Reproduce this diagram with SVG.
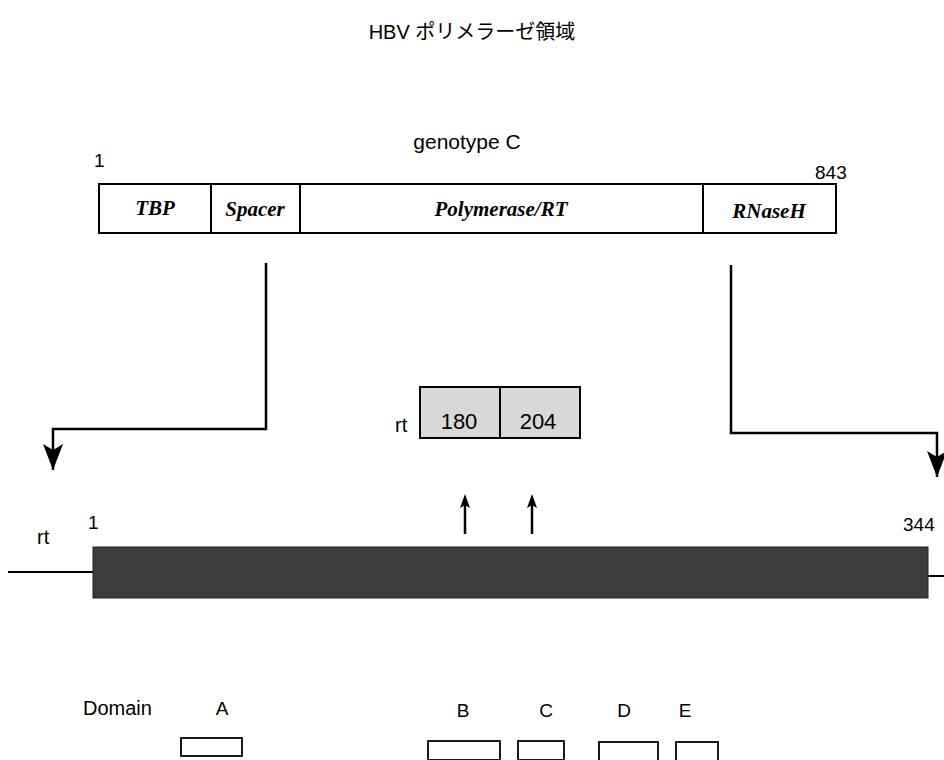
<svg xmlns="http://www.w3.org/2000/svg" width="944" height="760" viewBox="0 0 944 760">
<style>
.s{font-family:"Liberation Sans",Arial,"Noto Sans CJK JP",sans-serif;fill:#000}
.i{font-family:"Liberation Serif","Times New Roman",serif;font-style:italic;font-weight:bold;font-size:21px;fill:#000;text-anchor:middle}
.box{fill:#fff;stroke:#000;stroke-width:2}
.ln{fill:none;stroke:#000;stroke-width:2.5}
.dom{fill:#fff;stroke:#000;stroke-width:1.8}
</style>
<defs>
<marker id="big" markerWidth="20" markerHeight="26" refX="10" refY="26" orient="0" markerUnits="userSpaceOnUse" viewBox="0 0 20 26"><path d="M0,0 L10,6 L20,0 L10,26 Z" fill="#000"/></marker>
</defs>
<rect width="944" height="760" fill="#fff"/>
<text class="s" x="472" y="39" font-size="20" text-anchor="middle">HBV ポリメラーゼ領域</text>
<text class="s" x="467" y="149" font-size="21" text-anchor="middle">genotype C</text>
<text class="s" x="94" y="167" font-size="19">1</text>
<text class="s" x="815" y="179" font-size="19">843</text>
<g id="polymerase">
<rect class="box" x="99" y="184" width="737" height="49"/>
<line x1="211" y1="184" x2="211" y2="233" stroke="#000" stroke-width="2"/>
<line x1="300" y1="184" x2="300" y2="233" stroke="#000" stroke-width="2"/>
<line x1="703" y1="184" x2="703" y2="233" stroke="#000" stroke-width="2"/>
<text class="i" x="155" y="215">TBP</text>
<text class="i" x="255" y="216">Spacer</text>
<text class="i" x="501" y="216">Polymerase/RT</text>
<text class="i" x="769" y="218">RNaseH</text>
</g>
<g id="connectors">
<path class="ln" d="M266,263 V429 H53 V470" marker-end="url(#big)"/>
<path class="ln" d="M731,265 V433 H937 V477" marker-end="url(#big)"/>
<line x1="465" y1="534" x2="465" y2="500" stroke="#000" stroke-width="2.5"/>
<line x1="532" y1="534" x2="532" y2="500" stroke="#000" stroke-width="2.5"/>
<path d="M465,494 L470,508 L465,505 L460,508 Z M532,494 L537,508 L532,505 L527,508 Z" fill="#000"/>
<line x1="8" y1="572" x2="93" y2="572" stroke="#000" stroke-width="2"/>
<line x1="928" y1="576" x2="944" y2="576" stroke="#000" stroke-width="2"/>
</g>
<g id="rt-box">
<text class="s" x="395" y="432" font-size="20">rt</text>
<rect x="420" y="387" width="160" height="51" fill="#d8d8d8" stroke="#000" stroke-width="2"/>
<line x1="500" y1="387" x2="500" y2="438" stroke="#000" stroke-width="2"/>
<text class="s" x="459" y="429" font-size="22" text-anchor="middle">180</text>
<text class="s" x="538" y="429" font-size="22" text-anchor="middle">204</text>
</g>
<g id="rt-bar">
<text class="s" x="37" y="544" font-size="20">rt</text>
<text class="s" x="88" y="529" font-size="19">1</text>
<text class="s" x="903" y="531" font-size="19">344</text>
<rect x="93" y="547" width="835" height="51" fill="#3c3c3c" stroke="#222" stroke-width="1"/>
</g>
<g id="domains">
<text class="s" x="83" y="715" font-size="20">Domain</text>
<text class="s" x="222" y="715" font-size="19" text-anchor="middle">A</text>
<text class="s" x="463" y="717" font-size="19" text-anchor="middle">B</text>
<text class="s" x="546" y="717" font-size="19" text-anchor="middle">C</text>
<text class="s" x="624" y="717" font-size="19" text-anchor="middle">D</text>
<text class="s" x="685" y="717" font-size="19" text-anchor="middle">E</text>
<rect class="dom" x="181" y="738" width="61" height="18"/>
<rect class="dom" x="428" y="741" width="72" height="19"/>
<rect class="dom" x="518" y="741" width="46" height="19"/>
<rect class="dom" x="599" y="742" width="59" height="19"/>
<rect class="dom" x="676" y="742" width="42" height="19"/>
</g>
</svg>
